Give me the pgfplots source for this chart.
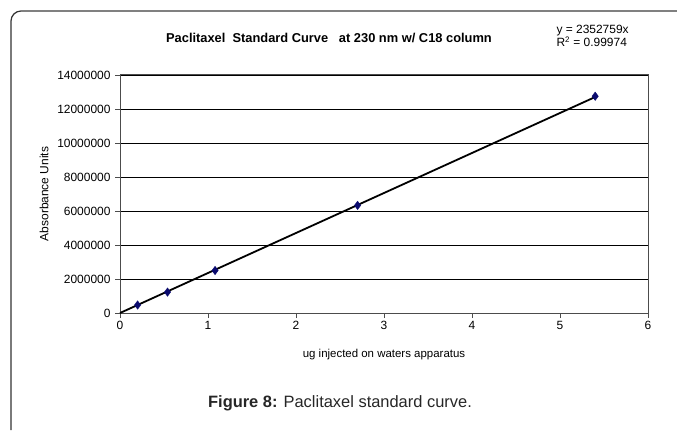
\documentclass[border=0pt]{standalone}
\usepackage{fontspec}
\setmainfont{Liberation Sans}
\usepackage{pgfplots}
\pgfplotsset{compat=1.18}
\definecolor{pt}{RGB}{10,10,110}
\begin{document}
\begin{tikzpicture}[x=1bp,y=1bp]
\path[use as bounding box] (0,0) rectangle (677,430);
\draw[line width=1.2bp, color=black!80] (11,0) -- (11,409) arc (180:90:10) -- (677,419);
\draw[line width=1.4bp, color=black!50] (21,419) -- (677,419);
\begin{axis}[
  at={(120bp,117bp)}, anchor=south west,
  scale only axis, width=528bp, height=238bp,
  xmin=0, xmax=6, ymin=0, ymax=14000000,
  xtick={0,1,...,6}, ytick={0,2000000,...,14000000},
  scaled y ticks=false,
  /pgf/number format/assume math mode=true,
  yticklabel style={/pgf/number format/fixed, /pgf/number format/1000 sep={}, font=\fontsize{12}{14}\selectfont, xshift=-1bp},
  xticklabel style={font=\fontsize{12}{14}\selectfont},
  tick align=outside, tickwidth=5bp,
  xtick pos=bottom, ytick pos=left,
  ymajorgrids, grid style={black, line width=0.9bp},
  axis line style={black!70, line width=1bp},
  tick style={black!70, line width=0.9bp},
  xlabel={ug injected on waters apparatus},
  ylabel={Absorbance Units},
  xlabel style={font=\fontsize{11.5}{13}\selectfont, yshift=-12bp},
  ylabel style={font=\fontsize{12}{14}\selectfont, yshift=2bp},
  clip=false,
]
\addplot[black, line width=1.8bp, no marks] coordinates {(0,0) (5.4,12705899)};
\addplot[only marks, mark=diamond*, mark size=4.2bp, color=pt, fill=pt] coordinates {
(0.2,470000) (0.54,1230000) (1.08,2500000) (2.7,6330000) (5.4,12750000)};
\end{axis}
\node[font=\bfseries\fontsize{12.9}{14}\selectfont] at (329,392) {Paclitaxel\ \ Standard Curve\ \ \ at 230 nm w/ C18 column};
\node[font=\fontsize{12}{13}\selectfont, anchor=west, align=left] at (553,394) {y = 2352759x\\R\textsuperscript{2} = 0.99974};
\node[font=\fontsize{16.5}{18}\selectfont, color=black!85] at (340,27) {\textbf{Figure 8:} Paclitaxel standard curve.};
\end{tikzpicture}
\end{document}
